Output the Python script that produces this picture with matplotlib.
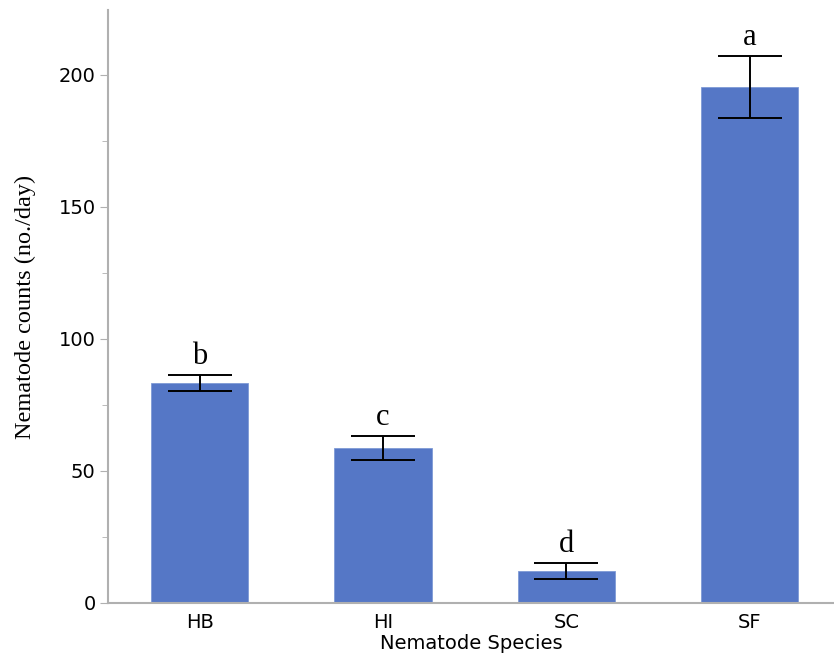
import numpy as np
import matplotlib
matplotlib.use("Agg")
import matplotlib.pyplot as plt
from matplotlib.ticker import MultipleLocator

species = ["HB", "HI", "SC", "SF"]
counts = [83.3, 58.7, 12.1, 195.5]
errors = [3.1, 4.4, 3.0, 11.7]
letters = ["b", "c", "d", "a"]

BAR_COLOR = "#5577c6"
SPINE_COLOR = "#b0b0b0"

fig = plt.figure(figsize=(8.34, 6.6), dpi=100)
ax = fig.add_axes([0.1295, 0.0864, 0.8705, 0.8985])

x = np.arange(len(species))
ax.bar(x, counts, width=0.53, color=BAR_COLOR, edgecolor="#7f9ad6", linewidth=0.6)
ax.errorbar(x, counts, yerr=errors, fmt="none", ecolor="black",
            elinewidth=1.4, capsize=23, capthick=1.4)

for xi, c, e, lab in zip(x, counts, errors, letters):
    ax.annotate(lab, (xi, c + e), xytext=(0, 3), textcoords="offset points",
                ha="center", va="bottom", fontsize=22, family="Liberation Serif")

ax.set_xlim(-0.5, 3.46)
ax.set_ylim(0, 224.6)
ax.yaxis.set_major_locator(MultipleLocator(50))
ax.yaxis.set_minor_locator(MultipleLocator(25))

ax.set_xticks(x)
ax.set_xticklabels(species, fontsize=14, family="DejaVu Sans")
ax.tick_params(axis="x", length=0, pad=7)
ax.tick_params(axis="y", which="major", length=6, color=SPINE_COLOR, labelsize=14, pad=3)
ax.tick_params(axis="y", which="minor", length=4, color=SPINE_COLOR)

for s in ["top", "right"]:
    ax.spines[s].set_visible(False)
for s in ["left", "bottom"]:
    ax.spines[s].set_color(SPINE_COLOR)
    ax.spines[s].set_linewidth(1.5)

ax.set_ylabel("Nematode counts (no./day)", fontsize=17.5, family="Liberation Serif", labelpad=16)
ax.set_xlabel("Nematode Species", fontsize=14, family="DejaVu Sans", labelpad=2)

fig.savefig("out.png", dpi=100)
